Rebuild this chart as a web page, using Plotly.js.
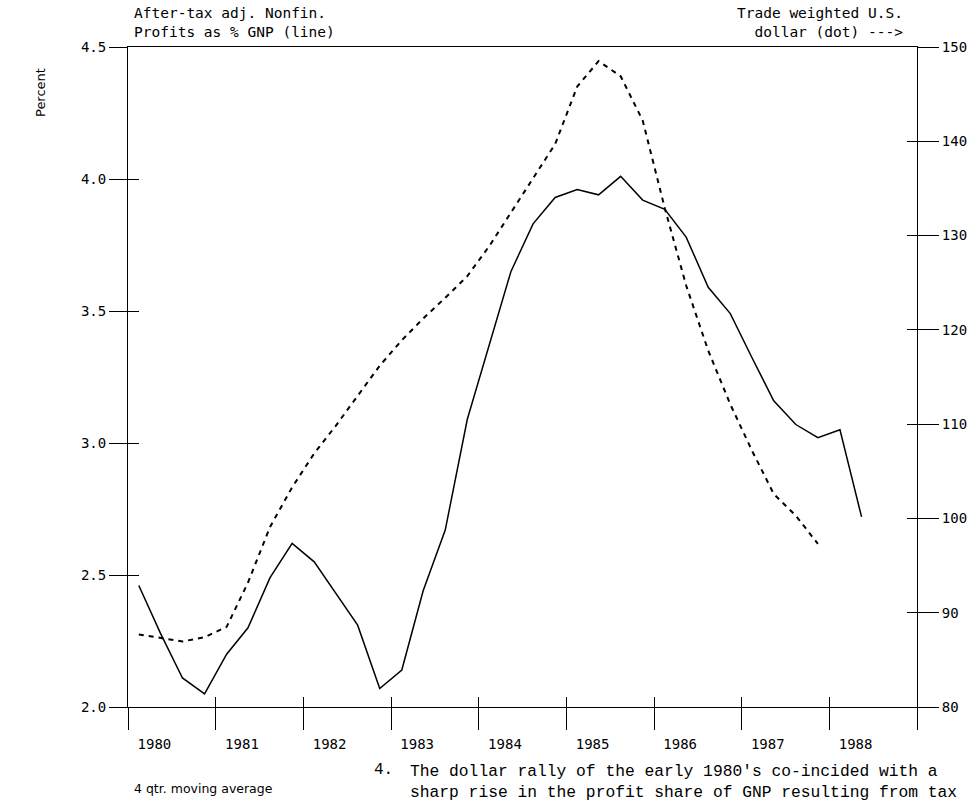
<!DOCTYPE html>
<html>
<head>
<meta charset="utf-8">
<script src="https://cdn.plot.ly/plotly-3.0.1.min.js"></script>
<style>
  html, body { margin: 0; padding: 0; background: #fff; }
  #chart { width: 974px; height: 804px; }
</style>
</head>
<body>
<div id="chart"></div>
<script>
// ---------------- DATA ----------------
// Quarters (1980Q1 .. 1988Q2)
const quarters = [
  "1980Q1","1980Q2","1980Q3","1980Q4",
  "1981Q1","1981Q2","1981Q3","1981Q4",
  "1982Q1","1982Q2","1982Q3","1982Q4",
  "1983Q1","1983Q2","1983Q3","1983Q4",
  "1984Q1","1984Q2","1984Q3","1984Q4",
  "1985Q1","1985Q2","1985Q3","1985Q4",
  "1986Q1","1986Q2","1986Q3","1986Q4",
  "1987Q1","1987Q2","1987Q3","1987Q4",
  "1988Q1","1988Q2"
];
// After-tax adj. nonfinancial profits as % of GNP (solid line, left axis)
const profitShare = [
  2.46, 2.28, 2.11, 2.05,
  2.20, 2.30, 2.49, 2.62,
  2.55, 2.43, 2.31, 2.07,
  2.14, 2.44, 2.67, 3.09,
  3.37, 3.65, 3.83, 3.93,
  3.96, 3.94, 4.01, 3.92,
  3.885, 3.78, 3.59, 3.49,
  3.32, 3.16, 3.07, 3.02,
  3.05, 2.72
];
// Trade weighted U.S. dollar (dotted line, right axis), 1980Q1 .. 1987Q4
const dollarIndex = [
  87.7, 87.3, 86.95, 87.4,
  88.5, 93.2, 99.1, 103.3,
  106.9, 109.8, 113.0, 116.2,
  118.9, 121.2, 123.4, 125.7,
  128.9, 132.4, 136.0, 139.7,
  145.8, 148.5, 146.9, 142.2,
  132.9, 124.7, 117.8, 112.1,
  107.1, 102.6, 100.3, 97.3
];
const yearLabels = ["1980","1981","1982","1983","1984","1985","1986","1987","1988"];
const yearBoundaries = ["1980","1981","1982","1983","1984","1985","1986","1987","1988","1989"];
const leftTicks = [2.0, 2.5, 3.0, 3.5, 4.0, 4.5];
const rightTicks = [80, 90, 100, 110, 120, 130, 140, 150];

// quarter label -> mid-quarter date
function qDate(q) {
  const y = q.slice(0, 4), n = +q.slice(5);
  const m = ["02", "05", "08", "11"][n - 1];
  return y + "-" + m + "-15";
}
const xProfit = quarters.map(qDate);
const xDollar = quarters.slice(0, dollarIndex.length).map(qDate);
const boundaryDates = yearBoundaries.map(y => y + "-01-01");
const labelDates = yearLabels.map(y => y + "-04-20");

// ---------------- LAYOUT ----------------
const W = 974, H = 804;
const L = 128, R = 917, T = 47, B = 707;
const px = x => (x - L) / (R - L);
const py = y => (B - y) / (B - T);

const plotFont = "DejaVu Sans Mono, monospace";
const tickFont = { family: plotFont, size: 14, color: "#000" };

const traces = [
  {
    x: xProfit, y: profitShare, type: "scatter", mode: "lines",
    line: { color: "#000", width: 1.5 }, xaxis: "x", yaxis: "y",
    hoverinfo: "skip", showlegend: false
  },
  {
    x: xDollar, y: dollarIndex, type: "scatter", mode: "lines",
    line: { color: "#000", width: 2, dash: "5px,5px" }, xaxis: "x", yaxis: "y2",
    hoverinfo: "skip", showlegend: false
  }
];
// invisible companions so that the overlay tick axes are drawn
[["x2", "y"], ["x3", "y"], ["x", "y3"]].forEach(([xa, ya]) => traces.push({
  x: xProfit, y: profitShare, type: "scatter", mode: "lines",
  line: { color: "rgba(0,0,0,0)", width: 0 }, xaxis: xa, yaxis: ya,
  hoverinfo: "skip", showlegend: false
}));
traces.push({
  x: xDollar, y: dollarIndex, type: "scatter", mode: "lines",
  line: { color: "rgba(0,0,0,0)", width: 0 }, xaxis: "x", yaxis: "y4",
  hoverinfo: "skip", showlegend: false
});

const xr = ["1980-01-01", "1989-01-01"];
const layout = {
  width: W, height: H,
  margin: { l: L, r: W - R, t: T, b: H - B, pad: 0 },
  paper_bgcolor: "#fff", plot_bgcolor: "#fff",
  showlegend: false,
  xaxis: {
    type: "date", range: xr, tickmode: "array", tickvals: labelDates, ticktext: yearLabels,
    ticks: "outside", ticklen: 24, tickcolor: "rgba(0,0,0,0)",
    showline: true, mirror: true, linecolor: "#000", linewidth: 1,
    showgrid: false, zeroline: false, tickfont: tickFont, anchor: "y", fixedrange: true
  },
  xaxis2: {
    type: "date", range: xr, overlaying: "x", anchor: "y", side: "bottom",
    tickmode: "array", tickvals: boundaryDates, ticks: "outside", ticklen: 22, tickwidth: 1,
    tickcolor: "#000", showticklabels: false, showline: false, showgrid: false, zeroline: false
  },
  xaxis3: {
    type: "date", range: xr, overlaying: "x", anchor: "y", side: "bottom",
    tickmode: "array", tickvals: boundaryDates, ticks: "inside", ticklen: 10, tickwidth: 1,
    tickcolor: "#000", showticklabels: false, showline: false, showgrid: false, zeroline: false
  },
  yaxis: {
    range: [2, 4.5], tickmode: "array", tickvals: leftTicks, tickformat: ".1f",
    ticks: "outside", ticklen: 18, tickwidth: 1, tickcolor: "#000",
    showline: true, mirror: true, linecolor: "#000", linewidth: 1,
    showgrid: false, zeroline: false, tickfont: tickFont, anchor: "x", fixedrange: true
  },
  yaxis3: {
    range: [2, 4.5], overlaying: "y", side: "left", anchor: "x",
    tickmode: "array", tickvals: leftTicks, ticks: "inside", ticklen: 11, tickwidth: 1,
    tickcolor: "#000", showticklabels: false, showline: false, showgrid: false, zeroline: false
  },
  yaxis2: {
    range: [80, 150], overlaying: "y", side: "right", anchor: "x",
    tickmode: "array", tickvals: rightTicks,
    ticks: "outside", ticklen: 21, tickwidth: 1, tickcolor: "#000",
    showline: false, showgrid: false, zeroline: false, tickfont: tickFont
  },
  yaxis4: {
    range: [80, 150], overlaying: "y", side: "right", anchor: "x",
    tickmode: "array", tickvals: rightTicks, ticks: "inside", ticklen: 10, tickwidth: 1,
    tickcolor: "#000", showticklabels: false, showline: false, showgrid: false, zeroline: false
  },
  annotations: [
    {
      text: "After-tax adj. Nonfin.<br>Profits as % GNP (line)",
      xref: "paper", yref: "paper", x: px(132), y: py(23),
      xanchor: "left", yanchor: "middle", align: "left", showarrow: false,
      font: { family: plotFont, size: 14.5, color: "#000" }
    },
    {
      text: "Trade weighted U.S.<br>dollar (dot) --->",
      xref: "paper", yref: "paper", x: px(905), y: py(23),
      xanchor: "right", yanchor: "middle", align: "right", showarrow: false,
      font: { family: plotFont, size: 14.5, color: "#000" }
    },
    {
      text: "Percent", textangle: -90,
      xref: "paper", yref: "paper", x: px(40), y: py(93),
      xanchor: "center", yanchor: "middle", showarrow: false,
      font: { family: "DejaVu Sans, sans-serif", size: 13, color: "#000" }
    },
    {
      text: "4 qtr. moving average",
      xref: "paper", yref: "paper", x: px(132), y: py(788),
      xanchor: "left", yanchor: "middle", showarrow: false,
      font: { family: "DejaVu Sans, sans-serif", size: 12.5, color: "#000" }
    },
    {
      text: "4.",
      xref: "paper", yref: "paper", x: px(372), y: py(770),
      xanchor: "left", yanchor: "middle", showarrow: false,
      font: { family: "Liberation Mono, monospace", size: 16, color: "#000" }
    },
    {
      text: "The dollar rally of the early 1980's co-incided with a<br>sharp rise in the profit share of GNP resulting from tax",
      xref: "paper", yref: "paper", x: px(408), y: py(760),
      xanchor: "left", yanchor: "top", align: "left", showarrow: false,
      font: { family: "Liberation Mono, monospace", size: 16.3, color: "#000" }
    }
  ]
};

Plotly.newPlot("chart", traces, layout, { staticPlot: true, displayModeBar: false });
</script>
</body>
</html>
